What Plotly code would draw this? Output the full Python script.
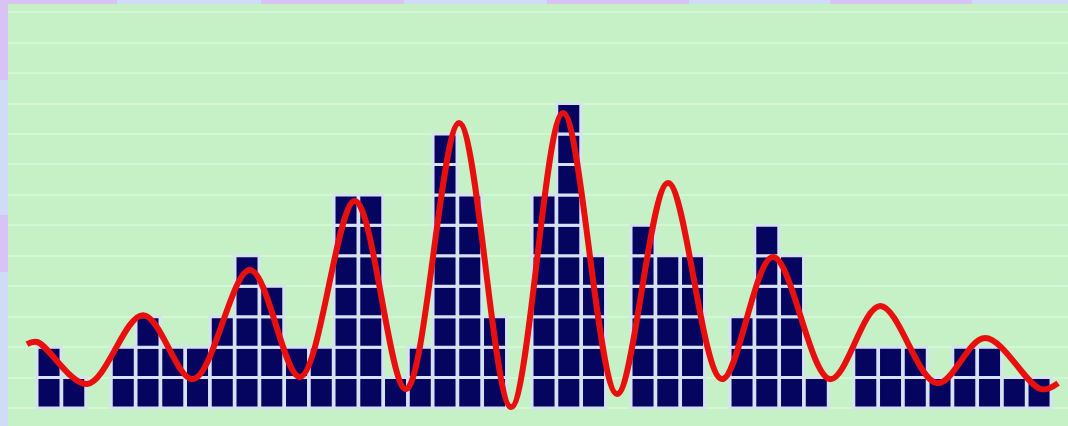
import plotly.graph_objects as go

# Column counts (number of stacked unit cells per column)
columns = list(range(41))
counts = [2, 1, 0, 2, 3, 2, 2, 3, 5, 4,
          2, 2, 7, 7, 1, 2, 9, 7, 3, 0,
          7, 10, 5, 0, 6, 5, 5, 0, 3, 6,
          5, 1, 0, 2, 2, 2, 1, 2, 2, 1,
          1]

# Smooth wave overlay: turning points of the curve
wave_x = [-0.89, -0.48, 1.54, 3.80, 5.82, 8.12, 10.14, 12.36, 14.42, 16.57,
          18.67, 20.77, 22.95, 25.01, 27.19, 29.25, 31.56, 33.58, 35.88, 37.82,
          40.08, 40.77]
wave_y = [2.10, 2.17, 0.79, 3.05, 0.95, 4.53, 1.02, 6.80, 0.62, 9.36,
          0.03, 9.69, 0.46, 7.39, 0.95, 4.96, 0.95, 3.35, 0.82, 2.30,
          0.62, 0.82]

NAVY = "#05055f"
CELL_EDGE = "#d6e2f2"
RED = "#e8100f"
GREEN = "#c6f1c6"
GRID = "#d3f6d3"
BLUE_TINT = "#d0dbf6"
PURPLE_TINT = "#d8c3f4"

# One unit cell per (column, level)
cell_x, cell_base = [], []
for col, n in zip(columns, counts):
    for level in range(n):
        cell_x.append(col)
        cell_base.append(level)

fig = go.Figure()
fig.add_trace(go.Bar(
    x=cell_x, y=[1] * len(cell_x), base=cell_base,
    width=0.97,
    marker=dict(color=NAVY, line=dict(color=CELL_EDGE, width=3)),
    hoverinfo="skip", showlegend=False,
))
fig.add_trace(go.Scatter(
    x=wave_x, y=wave_y, mode="lines",
    line=dict(color=RED, width=6, shape="spline", smoothing=1.0),
    hoverinfo="skip", showlegend=False,
))

# Tinted frame blocks along the top and left margins
shapes = []
top_purple = [(0, 117), (261, 404), (547, 689), (830, 972)]
for a, b in top_purple:
    shapes.append(dict(type="rect", xref="paper", yref="paper",
                       x0=(a - 8) / 1060, x1=(b - 8) / 1060,
                       y0=1, y1=1 + 4 / 422,
                       fillcolor=PURPLE_TINT, line_width=0, layer="above"))
left_purple = [(0, 80), (215, 272)]
for a, b in left_purple:
    shapes.append(dict(type="rect", xref="paper", yref="paper",
                       x0=-8 / 1060, x1=0,
                       y0=1 - (b - 4) / 422, y1=1 - (a - 4) / 422,
                       fillcolor=PURPLE_TINT, line_width=0, layer="above"))

fig.update_layout(
    width=1068, height=426,
    margin=dict(l=8, r=0, t=4, b=0),
    paper_bgcolor=BLUE_TINT,
    plot_bgcolor=GREEN,
    barmode="overlay",
    shapes=shapes,
    xaxis=dict(range=[-1.657, 41.17], showgrid=False, zeroline=False,
               showticklabels=False, ticks=""),
    yaxis=dict(range=[-0.59, 13.27], showgrid=True, gridcolor=GRID,
               gridwidth=2, dtick=1, tick0=0, zeroline=False,
               showticklabels=False, ticks=""),
)

fig.write_html("out.html")
